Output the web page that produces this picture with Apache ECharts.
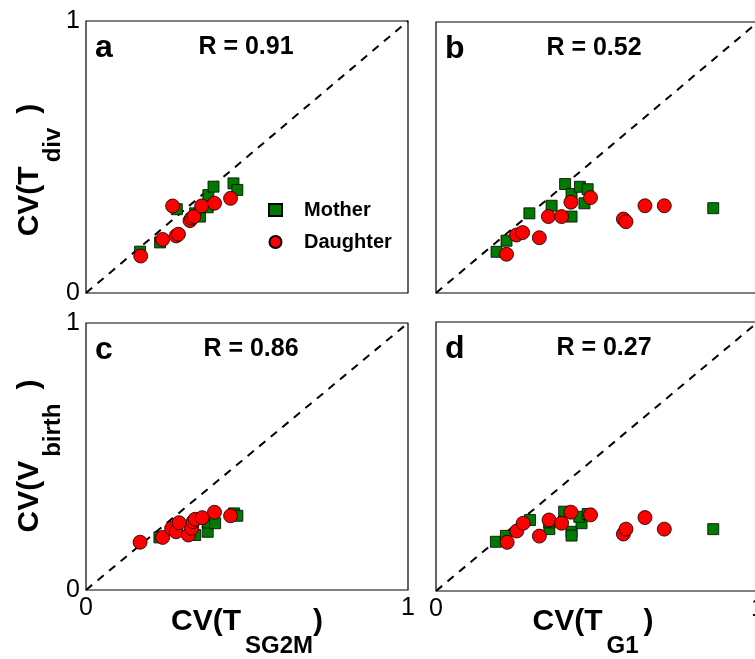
<!DOCTYPE html>
<html>
<head>
<meta charset="utf-8">
<script src="https://cdn.jsdelivr.net/npm/echarts@6.0.0/dist/echarts.min.js"></script>
<style>
  html, body { margin: 0; padding: 0; background: #fff; }
  #chart { width: 755px; height: 659px; }
</style>
</head>
<body>
<div id="chart"></div>
<script>
  // CV values, [x, y] per strain
  const divSg2mMother = [[0.168,0.152],[0.230,0.186],[0.282,0.308],[0.339,0.293],[0.354,0.281],[0.378,0.315],[0.380,0.360],[0.396,0.391],[0.458,0.403],[0.470,0.379]]
  const divSg2mDaughter = [[0.170,0.136],[0.238,0.197],[0.280,0.210],[0.287,0.216],[0.269,0.320],[0.323,0.266],[0.328,0.275],[0.335,0.281],[0.359,0.320],[0.399,0.330],[0.449,0.348]]
  const divG1Mother = [[0.188,0.152],[0.219,0.193],[0.290,0.294],[0.359,0.322],[0.401,0.402],[0.421,0.365],[0.447,0.392],[0.471,0.383],[0.461,0.331],[0.421,0.282],[0.861,0.313]]
  const divG1Daughter = [[0.219,0.143],[0.250,0.214],[0.269,0.223],[0.321,0.204],[0.349,0.282],[0.390,0.282],[0.419,0.335],[0.480,0.352],[0.582,0.273],[0.590,0.263],[0.649,0.322],[0.709,0.322]]
  const birthSg2mMother = [[0.228,0.197],[0.339,0.206],[0.378,0.218],[0.378,0.253],[0.401,0.250],[0.460,0.287],[0.470,0.278]]
  const birthSg2mDaughter = [[0.168,0.179],[0.238,0.197],[0.266,0.231],[0.280,0.218],[0.289,0.252],[0.318,0.206],[0.328,0.231],[0.333,0.256],[0.339,0.265],[0.361,0.271],[0.399,0.291],[0.449,0.278]]
  const birthG1Mother = [[0.186,0.183],[0.217,0.205],[0.292,0.264],[0.352,0.230],[0.352,0.255],[0.398,0.295],[0.421,0.220],[0.421,0.206],[0.452,0.252],[0.445,0.276],[0.471,0.286],[0.861,0.230]]
  const birthG1Daughter = [[0.221,0.181],[0.251,0.223],[0.271,0.252],[0.321,0.204],[0.351,0.264],[0.390,0.252],[0.419,0.293],[0.480,0.283],[0.582,0.212],[0.590,0.230],[0.649,0.273],[0.709,0.230]]

  const panelLetters = ['a', 'b', 'c', 'd']
  const rValues = ['0.91', '0.52', '0.86', '0.27']
  const axisTicks = [0, 1]
  const mothers = [divSg2mMother, divG1Mother, birthSg2mMother, birthG1Mother]
  const daughters = [divSg2mDaughter, divG1Daughter, birthSg2mDaughter, birthG1Daughter]

  const FONT = "'Liberation Sans', Arial, Helvetica, sans-serif"
  const grids = [
    {left: 86, top: 21, width: 322, height: 272},
    {left: 436, top: 22, width: 322, height: 271},
    {left: 86, top: 323, width: 322, height: 267},
    {left: 436, top: 322, width: 322, height: 269},
  ]
  const rX = [246, 594, 251, 604]

  let chart = echarts.init(document.getElementById('chart'))

  let xAxes = [], yAxes = [], series = [], graphics = []
  grids.forEach((g, i) => {
    xAxes.push({
      gridIndex: i, type: 'value', min: axisTicks[0], max: axisTicks[1], interval: 1,
      axisLine: {show: false}, axisTick: {show: false}, splitLine: {show: false},
      axisLabel: {show: i >= 2, color: '#000', fontSize: 25, fontFamily: FONT, margin: 6},
    })
    yAxes.push({
      gridIndex: i, type: 'value', min: axisTicks[0], max: axisTicks[1], interval: 1,
      axisLine: {show: false}, axisTick: {show: false}, splitLine: {show: false},
      axisLabel: {show: i % 2 === 0, color: '#000', fontSize: 25, fontFamily: FONT, margin: 6},
    })
    series.push({
      type: 'line', xAxisIndex: i, yAxisIndex: i, data: [[0, 0], [1, 1]],
      symbol: 'none', silent: true, z: 1,
      lineStyle: {color: '#000', width: 2, type: [8, 7]},
    })
    series.push({
      name: 'Mother', type: 'scatter', xAxisIndex: i, yAxisIndex: i,
      data: mothers[i], symbol: 'rect', symbolSize: 11, z: 2,
      itemStyle: {color: '#007a00', borderColor: '#000', borderWidth: 0.8, opacity: 1},
    })
    series.push({
      name: 'Daughter', type: 'scatter', xAxisIndex: i, yAxisIndex: i,
      data: daughters[i], symbol: 'circle', symbolSize: 14, z: 3,
      itemStyle: {color: '#ff0000', borderColor: '#000', borderWidth: 0.8, opacity: 1},
    })
    graphics.push({
      type: 'text', x: g.left + 9, y: g.top + 27, z: 10,
      style: {text: panelLetters[i], font: 'bold 32px ' + FONT, fill: '#000', verticalAlign: 'middle'},
    })
    graphics.push({
      type: 'text', x: rX[i], y: g.top + 26, z: 10,
      style: {text: 'R = ' + rValues[i], font: 'bold 25px ' + FONT, fill: '#000', align: 'center', verticalAlign: 'middle'},
    })
  })

  // axis titles: main text + lowered subscript, laid out piece by piece
  let ctx = document.createElement('canvas').getContext('2d')
  function titleGroup (x, y, rotated, main, sub, close, gapSub, gapClose, subDrop) {
    let parts = [
      {t: main, size: 30, dy: 0, gap: 0},
      {t: sub, size: 24, dy: subDrop, gap: gapSub},
      {t: close, size: 30, dy: 0, gap: gapClose},
    ]
    let total = 0
    parts.forEach(p => {
      ctx.font = 'bold ' + p.size + 'px ' + FONT
      p.w = ctx.measureText(p.t).width
      total += p.gap + p.w
    })
    let cur = -total / 2
    let children = parts.map(p => {
      cur += p.gap
      let el = {
        type: 'text', x: cur, y: p.dy,
        style: {text: p.t, font: 'bold ' + p.size + 'px ' + FONT, fill: '#000', verticalAlign: 'middle'},
      }
      cur += p.w
      return el
    })
    return {type: 'group', x: x, y: y, rotation: rotated ? Math.PI / 2 : 0, children: children}
  }
  graphics.push(titleGroup(30, 170, true, 'CV(T', 'div', ')', 4, 14, 23))
  graphics.push(titleGroup(30, 456, true, 'CV(V', 'birth', ')', 4, 14, 23))
  graphics.push(titleGroup(247, 622, false, 'CV(T', 'SG2M', ')', 4, 0, 24))
  graphics.push(titleGroup(593, 622, false, 'CV(T', 'G1', ')', 4, 5, 24))

  let option = {
    backgroundColor: '#fff',
    animation: false,
    grid: grids.map(g => Object.assign({
      show: true, borderColor: '#000', borderWidth: 1.2, backgroundColor: 'transparent',
      containLabel: false, outerBoundsMode: 'none',
    }, g)),
    xAxis: xAxes,
    yAxis: yAxes,
    legend: {
      data: ['Mother', 'Daughter'],
      orient: 'vertical', left: 268, top: 200, padding: 0,
      itemWidth: 13, itemHeight: 12, itemGap: 12, selectedMode: false,
      textStyle: {color: '#000', fontSize: 20, fontWeight: 'bold', fontFamily: FONT, lineHeight: 20, padding: [0, 0, 0, 17]},
    },
    series: series,
    graphic: graphics,
  }
  chart.setOption(option)
</script>
</body>
</html>
